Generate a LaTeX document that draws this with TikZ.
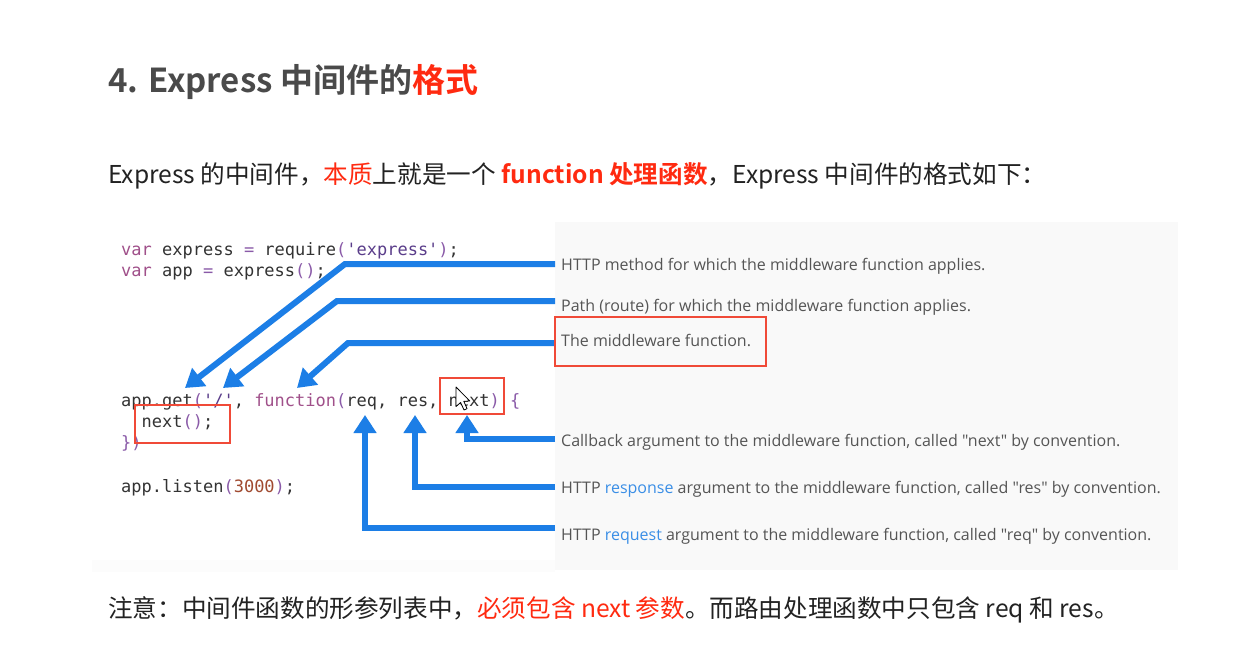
\documentclass[tikz,border=0pt]{standalone}
\usepackage{fontspec}
\setmainfont{Noto Sans CJK SC}
\newfontfamily\cjk{Noto Sans CJK SC}[BoldFont={Noto Sans CJK SC Bold}]
\newfontfamily\labelfont{Open Sans}
\newfontfamily\codefont{DejaVu Sans Mono}
\usetikzlibrary{arrows.meta}

\definecolor{titlegray}{HTML}{4A4A4A}
\definecolor{textblack}{HTML}{222222}
\definecolor{hired}{HTML}{FF2A10}
\definecolor{boxred}{HTML}{F04A38}
\definecolor{arrowblue}{HTML}{1C7EE6}
\definecolor{linkblue}{HTML}{3A8EE6}
\definecolor{labelgray}{HTML}{555555}
\definecolor{panelgray}{HTML}{F9F9F9}
\definecolor{codedark}{HTML}{333333}
\definecolor{codekw}{HTML}{A0508A}
\definecolor{codepunct}{HTML}{8A5AA8}
\definecolor{codestr}{HTML}{5A3D8A}
\definecolor{codenum}{HTML}{A04A30}

% syntax colouring helpers
\newcommand{\ckw}[1]{\textcolor{codekw}{#1}}
\newcommand{\cpu}[1]{\textcolor{codepunct}{#1}}
\newcommand{\cst}[1]{\textcolor{codestr}{#1}}
\newcommand{\cnu}[1]{\textcolor{codenum}{#1}}

\begin{document}
\begin{tikzpicture}[x=1pt,y=-1pt,
  txt/.style={inner sep=0pt,anchor=base west,font=\cjk\fontsize{24.6}{28}\selectfont,text=textblack},
  code/.style={inner sep=0pt,anchor=base west,font=\codefont\fontsize{17}{20}\selectfont,text=codedark},
  callout/.style={inner sep=0pt,anchor=base west,font=\labelfont\fontsize{16}{19}\selectfont,text=labelgray},
  pointer/.style={draw=arrowblue,line width=6pt,line join=miter,
    -{Triangle[length=18pt,width=22pt]}},
  markbox/.style={draw=boxred,line width=1.3pt}]

\useasboundingbox (0,0) rectangle (1257,663);
\fill[white] (0,0) rectangle (1257,663);

% light panel behind the annotations
\fill[panelgray] (555,222) rectangle (1178,570);
\fill[panelgray!50] (92,560) rectangle (555,572);

% heading
\node[txt,font=\cjk\bfseries\fontsize{33}{38}\selectfont,text=titlegray] (title) at (108,93)
  {4. Express 中间件的\textcolor{hired}{格式}};

% intro sentence
\node[txt] (intro) at (108,183)
  {Express 的中间件，\textcolor{hired}{本质}上就是一个 \textcolor{hired}{\bfseries function 处理函数}，Express 中间件的格式如下：};

% code listing
\node[code] (c1) at (121,255) {\ckw{var} express \cpu{=} require\cpu{(}\cst{'express'}\cpu{)};};
\node[code] (c2) at (121,276) {\ckw{var} app \cpu{=} express\cpu{()};};
\node[code] (c3) at (121,406) {app.get\cpu{(}\cst{'/'}, \ckw{function}\cpu{(}req, res, next\cpu{)} \cpu{\{}};
\node[code] (c4) at (121,427) {\ \ next\cpu{()};};
\node[code] (c5) at (121,448) {\cpu{\})}};
\node[code] (c6) at (121,492) {app.listen\cpu{(}\cnu{3000}\cpu{)};};

% annotations
\node[callout] (l1) at (561,270) {HTTP method for which the middleware function applies.};
\node[callout] (l2) at (561,311) {Path (route) for which the middleware function applies.};
\node[callout] (l3) at (561,346) {The middleware function.};
\node[callout] (l4) at (561,446) {Callback argument to the middleware function, called "next" by convention.};
\node[callout] (l5) at (561,493) {HTTP \textcolor{linkblue}{response} argument to the middleware function, called "res" by convention.};
\node[callout] (l6) at (561,540) {HTTP \textcolor{linkblue}{request} argument to the middleware function, called "req" by convention.};

% arrow targets in the code
\coordinate (getTip) at (185,388);
\coordinate (pathTip) at (223,388);
\coordinate (fnTip) at (297,388);
\coordinate (nextTip) at (467,415);
\coordinate (resTip) at (415,415);
\coordinate (reqTip) at (365,415);

\draw[pointer] (l1.base west) ++(-6,-6) -- (345,264) -- (getTip);
\draw[pointer] (l2.base west) ++(-6,-10) -- (337,301) -- (pathTip);
\draw[pointer] (l3.base west) ++(-6,-3) -- (348,343) -- (fnTip);
\draw[pointer] (l4.base west) ++(-6,-7) -- (467,439) -- (nextTip);
\draw[pointer] (l5.base west) ++(-6,-6) -- (415,487) -- (resTip);
\draw[pointer] (l6.base west) ++(-6,-12) -- (365,528) -- (reqTip);

% highlight boxes
\draw[markbox] (440,378) rectangle (504,414);
\draw[markbox] (135,405) rectangle (230,443);
\draw[markbox] (555,317) rectangle (766,366);

% mouse pointer over the third parameter
\draw[fill=white,line width=0.8pt,line join=round,shift={(456,387)},scale=1.15]
  (0,0) -- (0,17) -- (4,13.5) -- (7,20) -- (9.6,18.8) -- (6.8,12.4) -- (12,12.2) -- cycle;

% closing note
\node[txt] (note) at (108,617)
  {注意：中间件函数的形参列表中，\textcolor{hired}{必须包含 next 参数}。而路由处理函数中只包含 req 和 res。};

\end{tikzpicture}
\end{document}
